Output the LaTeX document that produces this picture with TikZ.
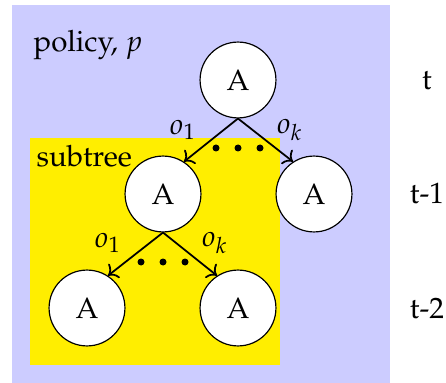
\documentclass[tikz,border=0pt]{standalone}
\usepackage[T1]{fontenc}
\usepackage{mathpazo}
\usepackage{amsmath}
\usepackage{tikz}
\usetikzlibrary{arrows.meta,positioning,calc}
\definecolor{policyblue}{RGB}{204,204,255}
\definecolor{subtreeyellow}{RGB}{255,238,0}

\begin{document}
\begin{tikzpicture}[x=0.34pt, y=-0.34pt, >=To]
  \tikzstyle{act}=[draw, circle, fill=white, inner sep=0pt, minimum size=25.8pt]
  \tikzstyle{obs}=[->, semithick]
  \tikzstyle{tag}=[anchor=base west, inner sep=0pt]
  \useasboundingbox (0,0) rectangle (446,383);
  \fill[policyblue] (12,5) rectangle (390,383);
  \fill[subtreeyellow] (30,138) rectangle (280,365);
  \node[tag] (pol) at (33,52) {policy, $p$};
  \node[tag] (sub) at (36,167) {subtree};
  % tree of actions
  \node[act] (root) at (238,80) {A};
  \node[act] (left) at (163,194) {A};
  \node[act] (right) at (314,194) {A};
  \node[act] (ll) at (87,308) {A};
  \node[act] (lr) at (238,308) {A};
  \draw[obs] (root.south) -- (left.57);
  \draw[obs] (root.south) -- (right.123);
  \draw[obs] (left.south) -- (ll.57);
  \draw[obs] (left.south) -- (lr.123);
  \node (o1a) at (183,130) {$o_1$};
  \node (oka) at (290,130) {$o_k$};
  \node (o1b) at (108,243) {$o_1$};
  \node (okb) at (215,243) {$o_k$};
  \foreach \dx in {-22,0,22} {
    \fill ($(root)+(\dx,68)$) circle (3.5);
    \fill ($(left)+(\dx,68)$) circle (3.5);
  }
  % time steps
  \node[anchor=base] (t0) at (427,90) {t};
  \node[anchor=base] (t1) at (427,204) {t-1};
  \node[anchor=base] (t2) at (427,318) {t-2};
\end{tikzpicture}
\end{document}
